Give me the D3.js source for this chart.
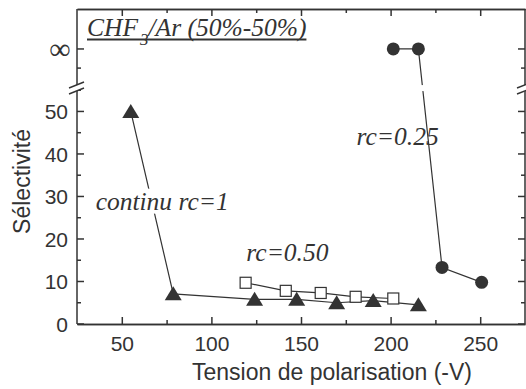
<!DOCTYPE html>
<html><head><meta charset="utf-8">
<script src="https://cdn.jsdelivr.net/npm/d3@7"></script>
<style>
html,body{margin:0;padding:0;background:#fff;}
svg{display:block;}
</style></head>
<body>
<svg id="c" width="526" height="389"></svg>
<script>
// ---- data ----
const triX = [55.0, 78.7, 124.1, 147.6, 169.9, 190.3, 215.5];
const triY = [50, 7.1, 5.8, 5.8, 5.0, 5.5, 4.5];
const sqX = [119.1, 141.5, 161.0, 180.5, 201.5];
const sqY = [9.7, 7.8, 7.3, 6.4, 6.0];
const circX = [201.5, 215.5, 228.7, 250.8];
const circY = [Infinity, Infinity, 13.3, 9.8];
const xTicks = [50, 100, 150, 200, 250];
const xMinor = [75, 125, 175, 225];
const yTicks = [0, 10, 20, 30, 40, 50];
const yMinor = [5, 15, 25, 35, 45, 55];
const INF_POS = 64.7;   // plotted position of the "∞" level
const BREAK_AT = 55.5;  // axis break
const yUpperMinor = [60.2];
const labels = [
  {text: "continu rc=1", x: 35.4, y: 26.9, bg: true},
  {text: "rc=0.50", x: 119.5, y: 14.8, bg: false},
  {text: "rc=0.25", x: 181.0, y: 42.2, bg: false}
];

// ---- layout ----
const L = 77, R = 525, T = 9, B = 324;
const col = "#333";
const svg = d3.select("#c");
const x = d3.scaleLinear().domain([25, 275]).range([L, R]);
const y = d3.scaleLinear().domain([0, 74.1]).range([B, T]);
const yv = v => v === Infinity ? y(INF_POS) : y(v);

const axisFont = "'Liberation Sans', Arial, sans-serif";
const serif = "'Liberation Serif', 'Times New Roman', serif";

const defs = svg.append("defs");
const yBrk = y(BREAK_AT);
const m = defs.append("mask").attr("id", "brkmask").attr("maskUnits", "userSpaceOnUse")
  .attr("x", 0).attr("y", 0).attr("width", 526).attr("height", 389);
m.append("rect").attr("x", 0).attr("y", 0).attr("width", 526).attr("height", 389).attr("fill", "#fff");
m.append("rect").attr("x", L + 2).attr("y", yBrk - 3).attr("width", R - L - 4).attr("height", 6).attr("fill", "#000");

// bottom axis
const gB = svg.append("g").attr("transform", `translate(0,${B})`)
  .call(d3.axisBottom(x).tickValues(xTicks).tickSizeInner(-7).tickSizeOuter(0).tickPadding(12));
svg.append("g").attr("transform", `translate(0,${B})`)
  .call(d3.axisBottom(x).tickValues(xMinor).tickSizeInner(-4).tickSizeOuter(0).tickFormat(""));
// top axis
svg.append("g").attr("transform", `translate(0,${T})`)
  .call(d3.axisTop(x).tickValues(xTicks).tickSizeInner(-7).tickSizeOuter(0).tickFormat(""));
svg.append("g").attr("transform", `translate(0,${T})`)
  .call(d3.axisTop(x).tickValues(xMinor).tickSizeInner(-4).tickSizeOuter(0).tickFormat(""));
svg.selectAll("g .domain, g .tick line").attr("stroke", col).attr("stroke-width", 1.5);
gB.selectAll(".tick text").attr("font-family", axisFont).attr("font-size", 21).attr("fill", col);

// vertical axes (with break)
function vAxis(xp, dir, labelled) {
  const g = svg.append("g");
  g.append("line").attr("x1", xp).attr("x2", xp).attr("y1", B).attr("y2", yBrk + 3)
    .attr("stroke", col).attr("stroke-width", 1.5);
  g.append("line").attr("x1", xp).attr("x2", xp).attr("y1", yBrk - 3).attr("y2", T)
    .attr("stroke", col).attr("stroke-width", 1.5);
  yTicks.concat([INF_POS]).forEach(v => {
    g.append("line").attr("x1", xp).attr("x2", xp + dir * 7).attr("y1", y(v)).attr("y2", y(v))
      .attr("stroke", col).attr("stroke-width", 1.5);
  });
  yMinor.concat(yUpperMinor).forEach(v => {
    g.append("line").attr("x1", xp).attr("x2", xp + dir * 4).attr("y1", y(v)).attr("y2", y(v))
      .attr("stroke", col).attr("stroke-width", 1.5);
  });
  g.append("polygon").attr("points", `${xp-7},${yBrk+6} ${xp+7},${yBrk} ${xp+7},${yBrk-6} ${xp-7},${yBrk}`)
    .attr("fill", "#fff");
  [3, -3].forEach(o => {
    g.append("line").attr("x1", xp - 8).attr("y1", yBrk + 3 + o).attr("x2", xp + 7).attr("y2", yBrk - 3 + o)
      .attr("stroke", col).attr("stroke-width", 1.5);
  });
  if (labelled) {
    yTicks.forEach(v => {
      g.append("text").attr("x", xp - 9).attr("y", y(v)).attr("dy", "0.36em")
        .attr("text-anchor", "end").attr("font-family", axisFont).attr("font-size", 21)
        .attr("fill", col).text(v);
    });
    g.append("text").attr("x", 60).attr("y", y(INF_POS)).attr("dy", "0.33em")
      .attr("text-anchor", "middle").attr("font-family", "'Liberation Serif', serif")
      .attr("font-size", 30).attr("fill", col).text("∞");
  }
}
vAxis(L, 1, true);
vAxis(R, -1, false);

// axis titles
svg.append("text").attr("x", 332).attr("y", 380).attr("text-anchor", "middle")
  .attr("font-family", axisFont).attr("font-size", 23).attr("fill", col)
  .text("Tension de polarisation (-V)");
svg.append("text").attr("transform", "translate(30,181.5) rotate(-90)").attr("text-anchor", "middle")
  .attr("font-family", axisFont).attr("font-size", 23).attr("fill", col)
  .text("Sélectivité");

// ---- series lines ----
const line = d3.line().x(d => x(d[0])).y(d => yv(d[1]));
const tri = triX.map((v, i) => [v, triY[i]]);
const sq = sqX.map((v, i) => [v, sqY[i]]);
const circ = circX.map((v, i) => [v, circY[i]]);
[tri, sq].forEach(d => svg.append("path").attr("d", line(d)).attr("fill", "none")
  .attr("stroke", col).attr("stroke-width", 1.2));
svg.append("path").attr("d", line(circ)).attr("fill", "none")
  .attr("stroke", col).attr("stroke-width", 1.2)
  .attr("mask", "url(#brkmask)");

// ---- labels ----
labels.forEach(l => {
  const g = svg.append("g");
  const bgRect = g.append("rect").attr("fill", "#fff");
  const t = g.append("text").attr("x", x(l.x)).attr("y", y(l.y))
    .attr("font-family", serif).attr("font-style", "italic").attr("font-size", 25.5)
    .attr("fill", col).text(l.text);
  if (l.bg) {
    const bb = t.node().getBBox();
    bgRect.attr("x", bb.x - 2).attr("y", bb.y + 2)
      .attr("width", bb.width + 4).attr("height", bb.height - 4);
  } else bgRect.remove();
});

// ---- markers ----
const triPath = "M0,-7.5L8.5,6.5L-8.5,6.5Z";
svg.append("g").selectAll("path").data(tri).join("path")
  .attr("transform", d => `translate(${x(d[0])},${yv(d[1])})`).attr("d", triPath).attr("fill", col);
svg.append("g").selectAll("rect").data(sq).join("rect")
  .attr("x", d => x(d[0]) - 5.5).attr("y", d => yv(d[1]) - 5.5).attr("width", 11).attr("height", 11)
  .attr("fill", "#fff").attr("stroke", col).attr("stroke-width", 1.2);
svg.append("g").selectAll("circle").data(circ).join("circle")
  .attr("cx", d => x(d[0])).attr("cy", d => yv(d[1])).attr("r", 6.5).attr("fill", col);

// ---- title ----
const title = svg.append("text").attr("x", 87).attr("y", 35.5)
  .attr("font-family", serif).attr("font-style", "italic").attr("font-size", 25.5).attr("fill", col);
title.append("tspan").text("CHF");
title.append("tspan").attr("font-size", 17).attr("dx", 2).attr("dy", 9).text("3");
title.append("tspan").attr("dy", -9).text("/Ar (50%-50%)");
const tb = title.node().getBBox();
svg.append("line").attr("x1", 87).attr("x2", tb.x + tb.width).attr("y1", 39.5).attr("y2", 39.5)
  .attr("stroke", col).attr("stroke-width", 2);
</script>
</body></html>
